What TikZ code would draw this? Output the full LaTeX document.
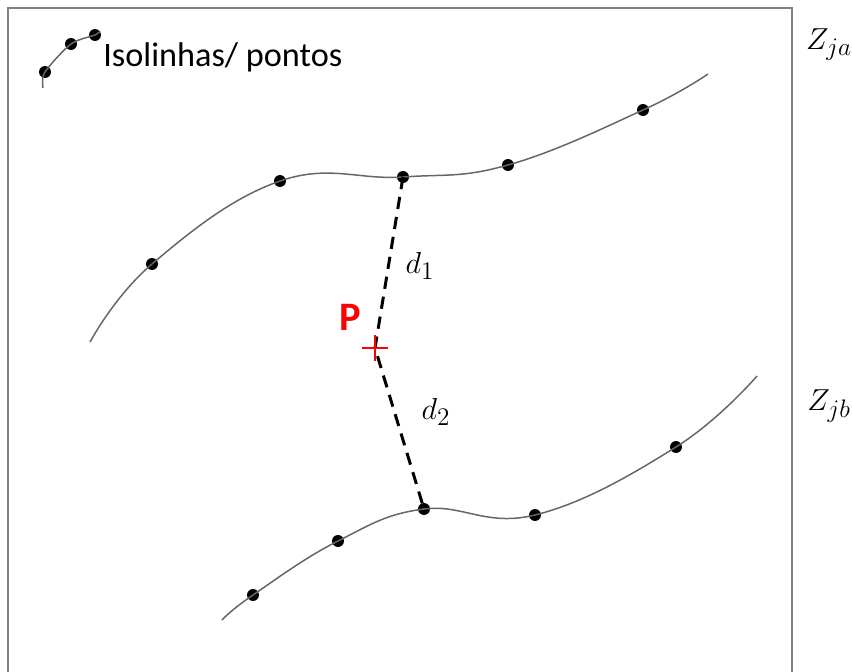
\documentclass[tikz,border=0pt]{standalone}
\usepackage{fontspec}
\newfontfamily\labelfont{Carlito}
\usepackage{tikz}
\usetikzlibrary{positioning}
\tikzset{
  frame/.style={draw=gray, line width=1.1pt},
  isoline/.style={draw=black!60, line width=0.85pt},
  pt/.style={circle, fill=black, minimum size=6.8pt, inner sep=0pt},
  dist/.style={dashed, line width=1.7pt, dash pattern=on 7pt off 4.5pt},
  zlab/.style={font=\fontsize{19}{21}\selectfont},
}
\begin{document}
\begin{tikzpicture}[x=0.02cm, y=-0.02cm]
\useasboundingbox (0,0) rectangle (852,672);
\draw[frame] (8,672) -- (8,8) -- (792,8) -- (792,672); % box
% legend
\node[pt] (l1) at (45,72) {};
\node[pt] (l2) at (71,44) {};
\node[pt] (l3) at (95,35) {};
\draw[isoline] plot[smooth] coordinates {(43,88) (l1) (l2) (l3) (100,31)};
\node[anchor=west, inner sep=0pt, font=\labelfont\fontsize{19.5}{22}\selectfont] (leg) at (103,57) {Isolinhas/ pontos};
% upper isoline
\node[pt] (a1) at (152,264) {};
\node[pt] (a2) at (280,181) {};
\node[pt] (a3) at (403,177) {};
\node[pt] (a4) at (508,165) {};
\node[pt] (a5) at (643,110) {};
\draw[isoline] plot[smooth, tension=0.7] coordinates {(90,342) (a1) (a2) (a3) (a4) (a5) (708,74)};
% lower isoline
\node[pt] (b1) at (253,595) {};
\node[pt] (b2) at (338,541) {};
\node[pt] (b3) at (424,509) {};
\node[pt] (b4) at (535,515) {};
\node[pt] (b5) at (676,447) {};
\draw[isoline] plot[smooth, tension=0.7] coordinates {(222,620) (b1) (b2) (b3) (b4) (b5) (757,376)};
% point P and distances
\coordinate (P) at (375,348);
\draw[dist] (a3.center) -- (P) -- (b3.center);
\draw[red, line width=1.6pt] (362,348) -- (388,348) (375,335) -- (375,361);
\node[text=red, font=\labelfont\bfseries\fontsize{23}{26}\selectfont] (plab) at (350,317) {P};
\node[zlab] (d1) at (420,266) {$d_1$};
\node[zlab] (d2) at (436,412) {$d_2$};
\node[zlab] (za) at (829,45) {$Z_{ja}$};
\node[zlab] (zb) at (829,406) {$Z_{jb}$};
\end{tikzpicture}
\end{document}
